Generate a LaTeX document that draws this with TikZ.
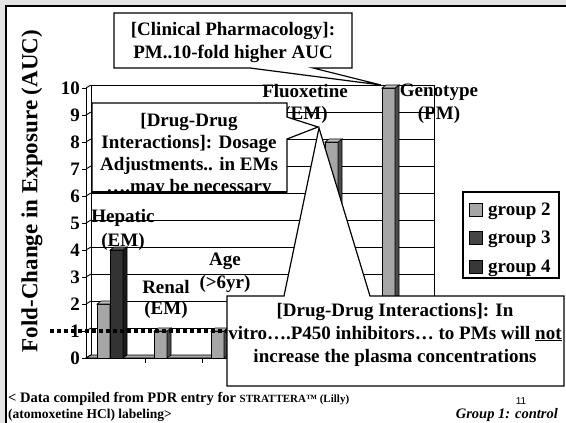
\documentclass[tikz,border=0pt]{standalone}
\usepackage{fontspec}
\setmainfont{Liberation Serif}
\newfontfamily\arialf{Liberation Sans}
\definecolor{lightbar}{HTML}{A6A6A6}
\definecolor{lightside}{HTML}{4A4A4A}
\definecolor{lighttop}{HTML}{C0C0C0}
\definecolor{darkbar}{HTML}{333333}
\definecolor{darkside}{HTML}{1A1A1A}
\definecolor{darktop}{HTML}{555555}
\definecolor{grpthree}{HTML}{454545}
\definecolor{grpfour}{HTML}{383838}
\definecolor{outside}{HTML}{E4E4E4}
\newcommand\mybar[5]{%
  \filldraw[#3,draw=black,line width=0.6pt] (#1,358) rectangle (#1+13,{358-27*#2});
  \filldraw[#4,draw=black,line width=0.6pt] (#1+13,358) -- (#1+17,355) -- (#1+17,{355-27*#2}) -- (#1+13,{358-27*#2}) -- cycle;
  \filldraw[#5,draw=black,line width=0.6pt] (#1,{358-27*#2}) -- (#1+4,{355-27*#2}) -- (#1+17,{355-27*#2}) -- (#1+13,{358-27*#2}) -- cycle;
}
\begin{document}
\begin{tikzpicture}[x=1pt,y=-1pt,
  big/.style={font=\bfseries\fontsize{19}{22}\selectfont, inner sep=0pt},
  num/.style={font=\bfseries\fontsize{19}{22}\selectfont, inner sep=0pt, anchor=base east},
  callout/.style={fill=white, draw=black, line width=1.2pt, line join=miter},
  grid/.style={draw=black, line width=0.9pt},
  legsq/.style={draw=black, line width=0.8pt}]
\useasboundingbox (0,0) rectangle (566,423);
\fill[outside] (0,0) rectangle (566,423);
\fill[white] (5,5) rectangle (566,423);
\draw[line width=2pt] (6,423) -- (6,6) -- (566,6);

% back wall and grid
\filldraw[fill=white, grid] (91,85) rectangle (434,355);
\foreach \v in {1,...,9} \draw[grid] (91,{355-27*\v}) -- (434,{355-27*\v});
% side wall
\draw[grid] (86,88) -- (91,85);
\foreach \v in {0,...,9} \draw[grid] (86,{358-27*\v}) -- (91,{355-27*\v});
% floor
\filldraw[fill=gray!70, grid] (86,358) -- (91,355) -- (434,355) -- (429,358) -- cycle;
% axes
\draw[grid] (86,358) -- (86,88);
\draw[grid] (86,358) -- (429,358);
\foreach \v in {0,...,10} \draw[grid] (82,{358-27*\v}) -- (86,{358-27*\v});
\foreach \t in {145,202,259,316,373,429} \draw[grid] (\t,358) -- (\t,363);

% bars
\mybar{97}{2}{lightbar}{lightside}{lighttop}
\mybar{110}{4}{darkbar}{darkside}{darktop}
\mybar{154}{1}{lightbar}{lightside}{lighttop}
\mybar{211}{1}{lightbar}{lightside}{lighttop}
\mybar{325}{8}{lightbar}{lightside}{lighttop}
\mybar{382}{10}{lightbar}{lightside}{lighttop}

% tick labels
\foreach \v in {0,...,10} \node[num] (t\v) at (80,{364.5-27*\v}) {\v};

% axis title
\node[font=\bfseries\fontsize{23}{26}\selectfont, rotate=90, inner sep=0pt] (ytitle) at (32,191) {Fold-Change in Exposure (AUC)};

% category labels
\node[big, anchor=base] (hep1) at (123,222) {Hepatic};
\node[big, anchor=base] (hep2) at (123,246) {(EM)};
\node[big, anchor=base] (ren1) at (166,293) {Renal};
\node[big, anchor=base] (ren2) at (166,314) {(EM)};
\node[big, anchor=base] (age1) at (225,265) {Age};
\node[big, anchor=base] (age2) at (225,288) {(>6yr)};
\node[big, anchor=base] (flu1) at (305,97) {Fluoxetine};
\node[big, anchor=base] (flu2) at (306,119) {(EM)};
\node[big, anchor=base] (gen1) at (439,96) {Genotype};
\node[big, anchor=base] (gen2) at (439,119) {(PM)};

% dotted reference line
\draw[line width=4pt, dash pattern=on 4pt off 3pt] (50,331) -- (230,331);

% legend
\filldraw[fill=white, draw=black, line width=1.2pt] (463,192) rectangle (559,278);
\filldraw[legsq, fill=lightbar] (469,203) rectangle (482,216);
\filldraw[legsq, fill=grpthree] (469,231) rectangle (482,244);
\filldraw[legsq, fill=grpfour] (469,260) rectangle (482,273);
\node[big, anchor=base west] (lg2) at (488,215) {group 2};
\node[big, anchor=base west] (lg3) at (488,243) {group 3};
\node[big, anchor=base west] (lg4) at (488,272) {group 4};

% callout 1
\path[callout] (114,13) -- (352,13) -- (352,68) -- (313,68) -- (381,85) -- (250,68) -- (114,68) -- cycle;
\node[big, anchor=base] (c1a) at (233,35) {[Clinical Pharmacology]:};
\node[big, anchor=base] (c1b) at (233,58) {PM..10-fold higher AUC};

% callout 2
\path[callout] (92,103) -- (287,103) -- (287,117) -- (318,127) -- (287,139) -- (287,192) -- (92,192) -- cycle;
\begin{scope}
\clip (92,103) rectangle (287,191.5);
\node[big, anchor=base] (c2a) at (189,126) {[Drug-Drug};
\node[big, anchor=base] (c2b) at (189,148) {Interactions]: Dosage};
\node[big, anchor=base] (c2c) at (189,170) {Adjustments.. in EMs};
\node[big, anchor=base] (c2d) at (189,192) {\dots.may be necessary};
\end{scope}
\draw[line width=1.2pt] (92,192) -- (287,192);

% callout 3
\path[callout] (227,296) -- (284,296) -- (319,128) -- (370,296) -- (564,296) -- (564,386) -- (227,386) -- cycle;
\node[big, anchor=base] (c3a) at (395,316) {[Drug-Drug Interactions]: In};
\node[big, anchor=base] (c3b) at (395,339) {vitro\dots.P450 inhibitors\dots{} to PMs will \underline{not}};
\node[big, anchor=base] (c3c) at (395,362) {increase the plasma concentrations};

% footer
\node[inner sep=0pt, anchor=base west, font=\bfseries] (ft1) at (8,402) {\fontsize{14.5}{16}\selectfont < Data compiled from PDR entry for \fontsize{11}{13}\selectfont STRATTERA™ (Lilly)};
\node[inner sep=0pt, anchor=base west, font=\bfseries\fontsize{13.5}{15}\selectfont] (ft2) at (8,418) {(atomoxetine HCl) labeling>};
\node[inner sep=0pt, anchor=base east, font=\bfseries\itshape\fontsize{14.5}{16}\selectfont] (grp) at (558,418) {Group 1: control};
\node[inner sep=0pt, anchor=base, font=\arialf\fontsize{10}{12}\selectfont] (pg) at (521,404.5) {11};
\end{tikzpicture}
\end{document}
